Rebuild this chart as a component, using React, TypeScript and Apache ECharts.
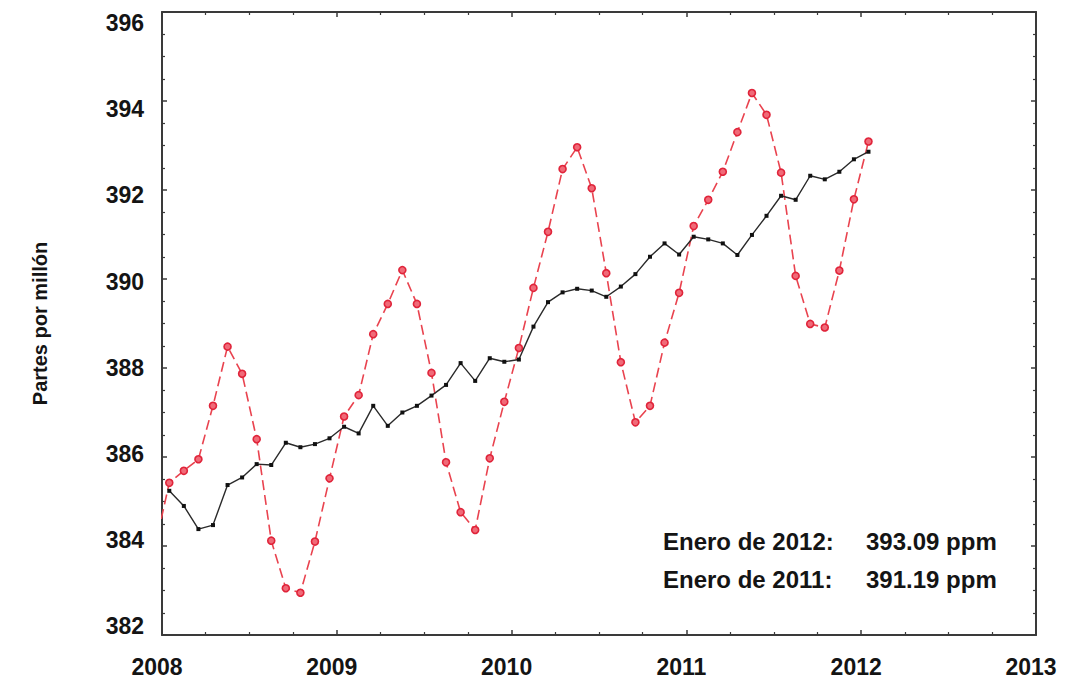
import React, { useEffect, useRef } from "react";
import * as echarts from "echarts";

// Monthly labels (YYYY-MM); red series starts Dec 2007, black series Jan 2008
const redMonths = [
  "2007-12",
  "2008-01", "2008-02", "2008-03", "2008-04", "2008-05", "2008-06", "2008-07", "2008-08", "2008-09", "2008-10", "2008-11", "2008-12",
  "2009-01", "2009-02", "2009-03", "2009-04", "2009-05", "2009-06", "2009-07", "2009-08", "2009-09", "2009-10", "2009-11", "2009-12",
  "2010-01", "2010-02", "2010-03", "2010-04", "2010-05", "2010-06", "2010-07", "2010-08", "2010-09", "2010-10", "2010-11", "2010-12",
  "2011-01", "2011-02", "2011-03", "2011-04", "2011-05", "2011-06", "2011-07", "2011-08", "2011-09", "2011-10", "2011-11", "2011-12",
  "2012-01",
];
// Monthly mean CO2 (ppm)
const monthlyMean = [
  383.95,
  385.42, 385.69, 385.95, 387.15, 388.48, 387.87, 386.40, 384.12, 383.05, 382.95, 384.10, 385.52,
  386.91, 387.39, 388.76, 389.44, 390.20, 389.44, 387.89, 385.88, 384.76, 384.36, 385.97, 387.24,
  388.45, 389.80, 391.06, 392.47, 392.96, 392.04, 390.13, 388.13, 386.78, 387.15, 388.57, 389.69,
  391.19, 391.78, 392.41, 393.30, 394.18, 393.69, 392.39, 390.07, 388.99, 388.91, 390.19, 391.79,
  393.09,
];
const trendMonths = redMonths.slice(1);
// Seasonally corrected (trend) CO2 (ppm)
const trend = [
  385.24, 384.90, 384.38, 384.47, 385.37, 385.54, 385.84, 385.82, 386.32, 386.22, 386.29, 386.42,
  386.68, 386.53, 387.15, 386.70, 387.00, 387.15, 387.38, 387.62, 388.11, 387.71, 388.22, 388.14,
  388.19, 388.93, 389.48, 389.70, 389.78, 389.74, 389.60, 389.83, 390.11, 390.50, 390.80, 390.55,
  390.95, 390.89, 390.80, 390.54, 390.99, 391.42, 391.87, 391.78, 392.32, 392.24, 392.41, 392.69,
  392.86,
];

const yearTicks = [2008, 2009, 2010, 2011, 2012, 2013];
const ppmTicks = [382, 384, 386, 388, 390, 392, 394, 396];
// the printed tick labels sit on a slightly compressed scale in the original
const ppmLabelRange = [381.79, 396.26];
const yAxisTitle = "Partes por millón";
const notes = [
  { label: "Enero de 2012:", value: "393.09 ppm" },
  { label: "Enero de 2011:", value: "391.19 ppm" },
];

function toDecimalYear(m: string): number {
  const [y, mo] = m.split("-").map(Number);
  return y + (mo - 0.5) / 12;
}

const FONT = "'Liberation Sans', Arial, sans-serif";
const AXIS_COLOR = "#3a3a3a";
const TEXT_COLOR = "#141414";

export default function App() {
  const ref = useRef<HTMLDivElement>(null);

  useEffect(() => {
    if (!ref.current) return;
    const chart = echarts.init(ref.current, undefined, { renderer: "svg" });

    const redData = redMonths.map((m, i) => [toDecimalYear(m), monthlyMean[i]]);
    const blackData = trendMonths.map((m, i) => [toDecimalYear(m), trend[i]]);

    const tickCommon = {
      axisLine: { show: true, onZero: false, lineStyle: { color: AXIS_COLOR, width: 2 } },
      axisTick: { show: true, inside: true, length: 5, lineStyle: { color: AXIS_COLOR, width: 1.5 } },
      minorTick: { show: true, splitNumber: 4, length: 3, lineStyle: { color: AXIS_COLOR, width: 1.2 } },
      splitLine: { show: false },
    };

    chart.setOption({
      animation: false,
      backgroundColor: "#ffffff",
      grid: { left: 162, top: 12, right: 36, bottom: 47, containLabel: false },
      xAxis: [
        {
          type: "value",
          min: yearTicks[0],
          max: yearTicks[yearTicks.length - 1],
          interval: 1,
          position: "bottom",
          ...tickCommon,
          axisLabel: {
            show: true,
            margin: 20,
            padding: [0, 10, 0, 0],
            formatter: (v: number) => String(v),
            color: TEXT_COLOR,
            fontFamily: FONT,
            fontWeight: "bold",
            fontSize: 23,
          },
        },
        {
          type: "value",
          min: yearTicks[0],
          max: yearTicks[yearTicks.length - 1],
          interval: 1,
          position: "top",
          ...tickCommon,
          axisLabel: { show: false },
        },
      ],
      yAxis: [
        {
          type: "value",
          min: ppmTicks[0],
          max: ppmTicks[ppmTicks.length - 1],
          interval: 2,
          position: "left",
          ...tickCommon,
          axisLabel: { show: false },
          name: yAxisTitle,
          nameLocation: "middle",
          nameGap: 112,
          nameRotate: 90,
          nameTextStyle: {
            color: TEXT_COLOR,
            fontFamily: FONT,
            fontWeight: "bold",
            fontSize: 20,
          },
        },
        {
          type: "value",
          min: ppmTicks[0],
          max: ppmTicks[ppmTicks.length - 1],
          interval: 2,
          position: "right",
          ...tickCommon,
          axisLabel: { show: false },
        },
        {
          type: "value",
          min: ppmLabelRange[0],
          max: ppmLabelRange[1],
          position: "left",
          axisLine: { show: false },
          axisTick: { show: false },
          splitLine: { show: false },
          axisLabel: {
            show: true,
            customValues: ppmTicks,
            margin: 18,
            color: TEXT_COLOR,
            fontFamily: FONT,
            fontWeight: "bold",
            fontSize: 23,
          },
        },
      ],
      series: [
        {
          name: "Media mensual",
          type: "line",
          data: redData,
          clip: true,
          symbol: "circle",
          symbolSize: 7,
          showSymbol: true,
          lineStyle: { color: "#e9434f", width: 1.6, type: [10, 5] },
          itemStyle: { color: "#f06a78", borderColor: "#e0243a", borderWidth: 1.6 },
          z: 2,
        },
        {
          name: "Tendencia",
          type: "line",
          data: blackData,
          clip: true,
          symbol: "rect",
          symbolSize: 4,
          showSymbol: true,
          lineStyle: { color: "#2a2a2a", width: 1.4 },
          itemStyle: { color: "#111" },
          z: 3,
        },
      ],
      graphic: notes.flatMap((n, i) => [
        {
          type: "text",
          x: 663,
          y: 541 + i * 38,
          style: {
            text: n.label,
            fill: TEXT_COLOR,
            font: `bold 24px ${FONT}`,
            verticalAlign: "middle",
          },
        },
        {
          type: "text",
          x: 866,
          y: 541 + i * 38,
          style: {
            text: n.value,
            fill: TEXT_COLOR,
            font: `bold 24px ${FONT}`,
            verticalAlign: "middle",
          },
        },
      ]),
    });

    return () => chart.dispose();
  }, []);

  return (
    <div
      ref={ref}
      style={{ position: "fixed", left: 0, top: 0, width: 1072, height: 682, background: "#fff" }}
    />
  );
}
